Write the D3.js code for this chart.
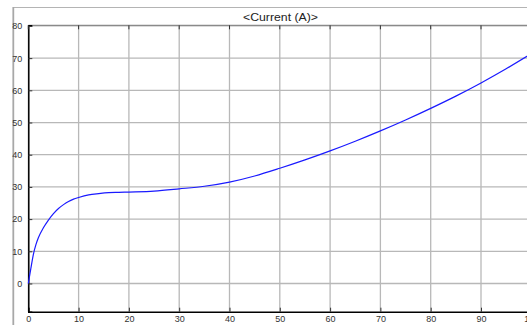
<!DOCTYPE html>
<html>
<head>
<meta charset="utf-8">
<script src="https://cdn.jsdelivr.net/npm/d3@7"></script>
<style>
  html, body { margin: 0; padding: 0; background: #fff; }
  svg { display: block; font-family: "Liberation Sans", Arial, sans-serif; }
</style>
</head>
<body>
<svg id="chart" width="527" height="325"></svg>
<script>
// Simulated motor current trace
const timeValues = [0, 0.5, 1, 1.5, 2, 3, 4, 5, 6, 7, 8, 9, 10, 12, 14, 16, 18, 20, 25, 30, 35, 40, 45, 50, 55, 60, 65, 70, 75, 80, 85, 90, 95, 100];
const currentValues = [0, 4.6, 9, 12, 14.2, 17.3, 19.7, 21.7, 23.3, 24.5, 25.5, 26.2, 26.7, 27.5, 27.9, 28.2, 28.3, 28.4, 28.7, 29.4, 30.2, 31.5, 33.4, 35.8, 38.4, 41.2, 44.2, 47.4, 50.8, 54.4, 58.2, 62.3, 66.7, 71.4];
const xTickValues = [0, 10, 20, 30, 40, 50, 60, 70, 80, 90, 100];
const yTickValues = [0, 10, 20, 30, 40, 50, 60, 70, 80];
const xDomain = [0, 100];
const yDomain = [-8.76, 80.2];
const titleText = "<Current (A)>";

const svg = d3.select("#chart");
const plot = { left: 28.3, right: 531.3, top: 25.3, bottom: 311.7 };

const x = d3.scaleLinear().domain(xDomain).range([plot.left, plot.right]);
const y = d3.scaleLinear().domain(yDomain).range([plot.bottom, plot.top]);

// Outer window frame
svg.append("line").attr("x1", 13).attr("x2", 527).attr("y1", 7.5).attr("y2", 7.5)
  .attr("stroke", "#b4b4b4").attr("stroke-width", 1.2);
svg.append("line").attr("x1", 13.3).attr("x2", 13.3).attr("y1", 7).attr("y2", 325)
  .attr("stroke", "#a8a8a8").attr("stroke-width", 1.8);

// Title
svg.append("text")
  .attr("x", 280.5).attr("y", 21.2)
  .attr("text-anchor", "middle")
  .attr("font-size", 11)
  .attr("fill", "#222")
  .attr("textLength", 75)
  .attr("lengthAdjust", "spacingAndGlyphs")
  .text(titleText);

// Grid lines
const grid = svg.append("g");
grid.selectAll("line.vx").data(xTickValues).join("line")
  .attr("class", "vx")
  .attr("x1", d => x(d)).attr("x2", d => x(d))
  .attr("y1", plot.top).attr("y2", plot.bottom)
  .attr("stroke", "#b8b8b8").attr("stroke-width", 1.3);
grid.selectAll("line.hy").data(yTickValues).join("line")
  .attr("class", "hy")
  .attr("x1", plot.left).attr("x2", plot.right)
  .attr("y1", d => y(d)).attr("y2", d => y(d))
  .attr("stroke", "#b8b8b8").attr("stroke-width", 1.3);

// Top border of the axes
svg.append("line").attr("x1", plot.left).attr("x2", 527).attr("y1", plot.top).attr("y2", plot.top)
  .attr("stroke", "#8a8a8a").attr("stroke-width", 1.3);

// Axes (ticks drawn inward)
const xAxis = d3.axisBottom(x).tickValues(xTickValues).tickSize(-4).tickPadding(0).tickFormat(d3.format("d"));
const yAxis = d3.axisLeft(y).tickValues(yTickValues).tickSize(-4).tickPadding(6).tickFormat(d3.format("d"));

const gx = svg.append("g").attr("transform", `translate(0,${plot.bottom})`).call(xAxis);
const gy = svg.append("g").attr("transform", `translate(${plot.left},0)`).call(yAxis);

[gx, gy].forEach(g => {
  g.select(".domain").attr("stroke", "#000").attr("stroke-width", 1.5);
  g.selectAll(".tick line").attr("stroke", "#333").attr("stroke-width", 1);
  g.selectAll(".tick text").attr("fill", "#333").attr("font-size", 9)
    .attr("font-family", "Liberation Sans, Arial, sans-serif");
});
gx.selectAll(".tick text").attr("y", 10.6).attr("dy", 0);

// Top inward ticks on the vertical grid
svg.append("g").selectAll("line").data(xTickValues).join("line")
  .attr("x1", d => x(d)).attr("x2", d => x(d))
  .attr("y1", plot.top).attr("y2", plot.top + 4)
  .attr("stroke", "#333").attr("stroke-width", 1);

// Current trace
const line = d3.line()
  .x((d, i) => x(timeValues[i]))
  .y(d => y(d))
  .curve(d3.curveMonotoneX);

svg.append("path")
  .datum(currentValues)
  .attr("d", line)
  .attr("fill", "none")
  .attr("stroke", "#1a1aff")
  .attr("stroke-width", 1.2);
</script>
</body>
</html>
